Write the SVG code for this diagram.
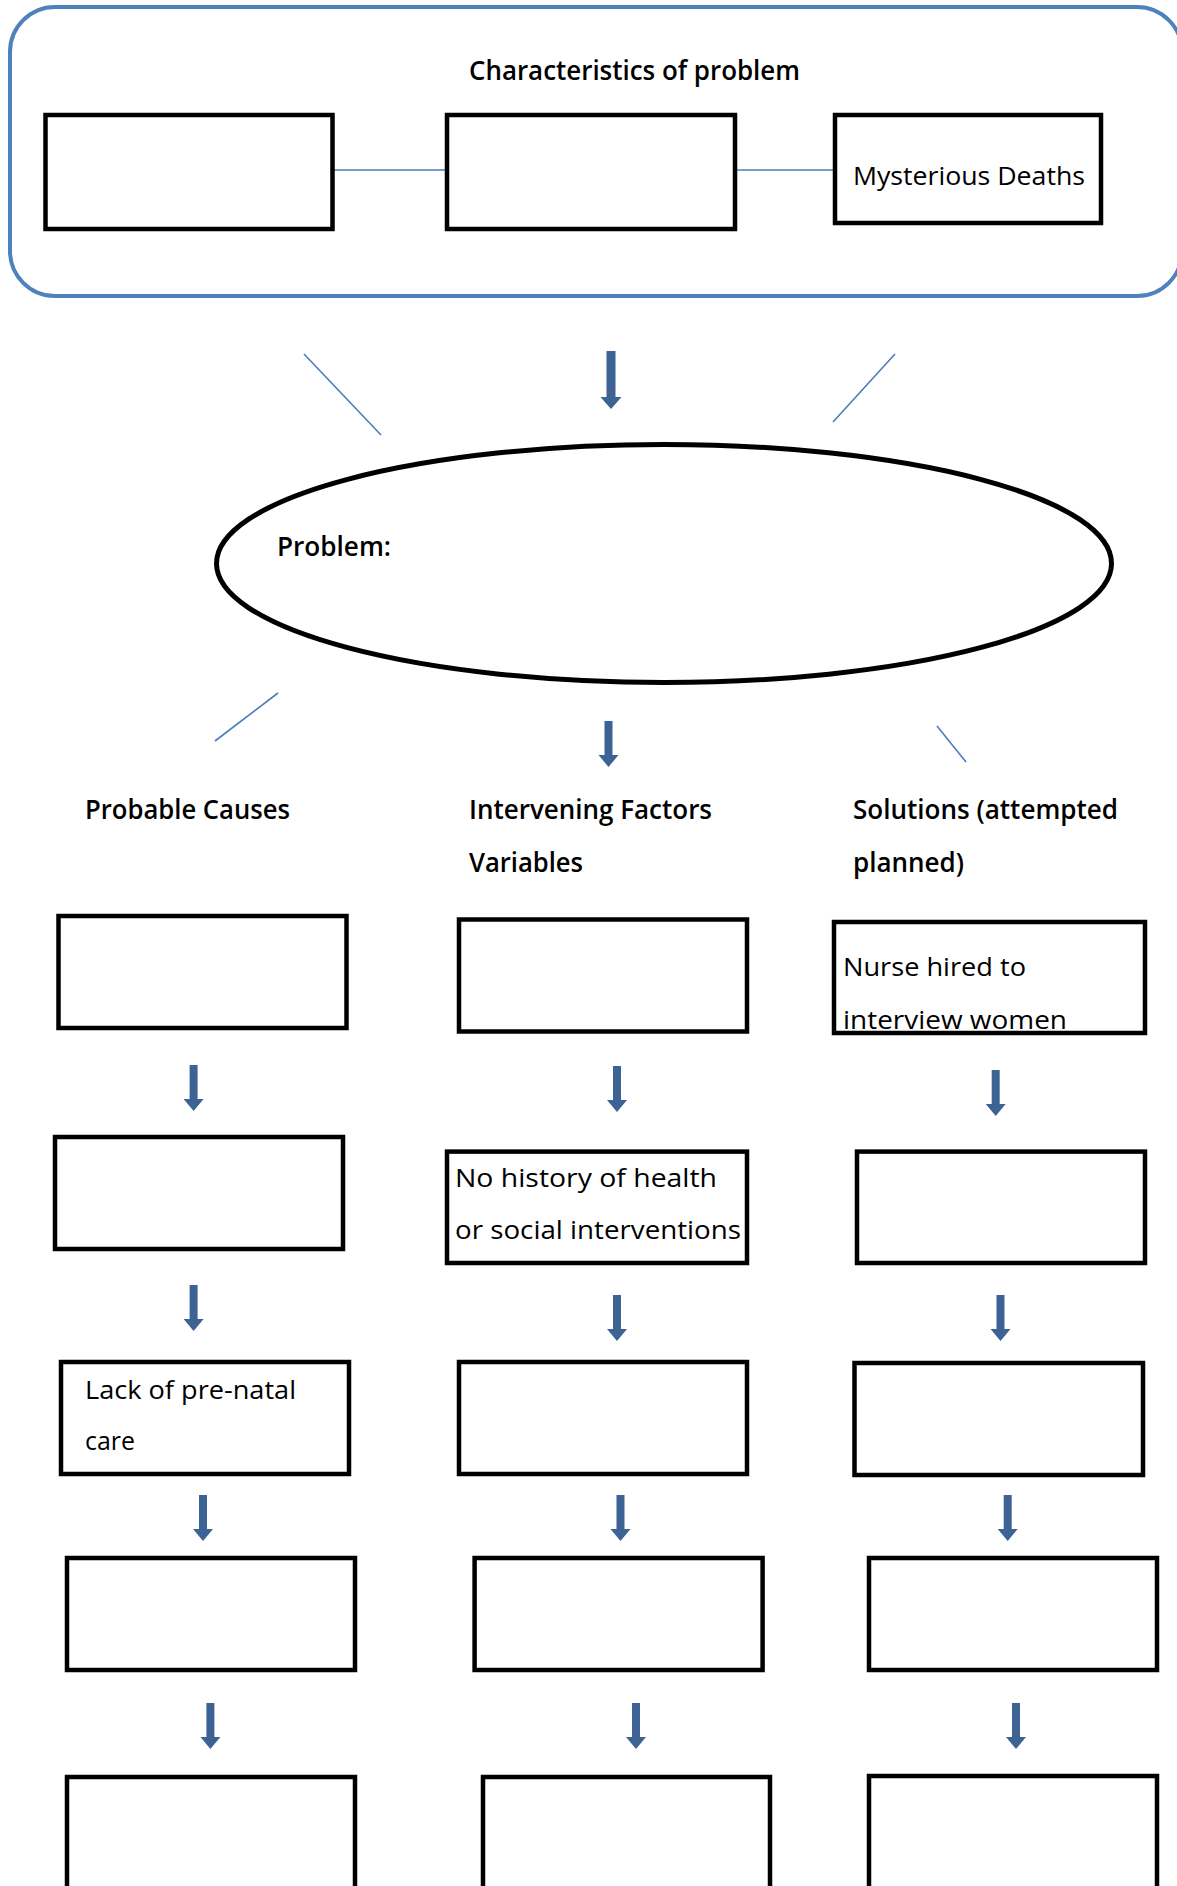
<svg xmlns="http://www.w3.org/2000/svg" width="1177" height="1886" viewBox="0 0 1177 1886">
<style>
.box{fill:#fff;stroke:#000;stroke-width:4.5}
.frame{fill:none;stroke:#4F81BD;stroke-width:4}
.ell{fill:#fff;stroke:#000;stroke-width:5}
.ln{stroke:#4A7EBB;stroke-width:1.6;fill:none}
.arr{fill:#3D6394}
.t{font-family:"Open Sans","Lato",sans-serif;font-size:26px;fill:#000}
.h{font-family:"Open Sans","Lato",sans-serif;font-size:27px;font-weight:600;fill:#000}
</style>
<defs>
<path id="a46" d="M-4,0 H4 V34 H10 L0,46 L-10,34 H-4 Z"/>
<path id="a58" d="M-4.5,0 H4.5 V46 H10.5 L0,58 L-10.5,46 H-4.5 Z"/>
</defs>
<rect x="0" y="0" width="1177" height="1886" fill="#fff"/>

<g id="characteristics">
<rect class="frame" x="10" y="7" width="1172" height="289" rx="45" ry="45"/>
<text class="h" x="469" y="80" textLength="331" lengthAdjust="spacingAndGlyphs">Characteristics of problem</text>
</g>

<g id="connectors">
<line class="ln" x1="333" y1="170" x2="447" y2="170"/>
<line class="ln" x1="735" y1="170" x2="835" y2="170"/>
<line class="ln" x1="304" y1="354" x2="381" y2="435"/>
<line class="ln" x1="895" y1="354" x2="833" y2="422"/>
<line class="ln" x1="278" y1="693" x2="215" y2="741"/>
<line class="ln" x1="937" y1="726" x2="966" y2="762"/>
<use href="#a58" class="arr" x="611" y="351"/>
<use href="#a46" class="arr" x="608.5" y="721"/>
<use href="#a46" class="arr" x="193.6" y="1065"/>
<use href="#a46" class="arr" x="617" y="1066"/>
<use href="#a46" class="arr" x="995.7" y="1070"/>
<use href="#a46" class="arr" x="193.6" y="1285"/>
<use href="#a46" class="arr" x="617" y="1295"/>
<use href="#a46" class="arr" x="1000.5" y="1295"/>
<use href="#a46" class="arr" x="203" y="1495"/>
<use href="#a46" class="arr" x="620.5" y="1495"/>
<use href="#a46" class="arr" x="1007.7" y="1495"/>
<use href="#a46" class="arr" x="210.4" y="1703"/>
<use href="#a46" class="arr" x="636" y="1703"/>
<use href="#a46" class="arr" x="1016" y="1703"/>
</g>

<g id="char1"><rect class="box" x="45.5" y="115" width="287" height="114"/></g>
<g id="char2"><rect class="box" x="447" y="115" width="288" height="114"/></g>
<g id="char3"><rect class="box" x="835" y="115" width="266" height="108"/>
<text class="t" x="853" y="185" textLength="232" lengthAdjust="spacingAndGlyphs">Mysterious Deaths</text></g>

<g id="problem">
<ellipse class="ell" cx="664" cy="563.5" rx="447.5" ry="119"/>
<text class="h" x="277" y="556" textLength="114" lengthAdjust="spacingAndGlyphs">Problem:</text>
</g>

<g id="head-causes"><text class="h" x="85" y="819" textLength="205" lengthAdjust="spacingAndGlyphs">Probable Causes</text></g>
<g id="head-factors">
<text class="h" x="469" y="819" textLength="243" lengthAdjust="spacingAndGlyphs">Intervening Factors</text>
<text class="h" x="469" y="872" textLength="114" lengthAdjust="spacingAndGlyphs">Variables</text>
</g>
<g id="head-solutions">
<text class="h" x="853" y="819" textLength="265" lengthAdjust="spacingAndGlyphs">Solutions (attempted</text>
<text class="h" x="853" y="872" textLength="111" lengthAdjust="spacingAndGlyphs">planned)</text>
</g>

<g id="c1r1"><rect class="box" x="58.5" y="916" width="288" height="112"/></g>
<g id="c2r1"><rect class="box" x="459" y="919.5" width="288" height="112"/></g>
<g id="c3r1"><rect class="box" x="834" y="922" width="311" height="111"/>
<text class="t" x="843" y="976" textLength="183" lengthAdjust="spacingAndGlyphs">Nurse hired to</text>
<text class="t" x="843" y="1029" textLength="224" lengthAdjust="spacingAndGlyphs">interview women</text></g>

<g id="c1r2"><rect class="box" x="55" y="1137" width="288" height="112"/></g>
<g id="c2r2"><rect class="box" x="447" y="1151.6" width="300" height="111.4"/>
<text class="t" x="455" y="1187" textLength="262" lengthAdjust="spacingAndGlyphs">No history of health</text>
<text class="t" x="455" y="1238.5" textLength="286" lengthAdjust="spacingAndGlyphs">or social interventions</text></g>
<g id="c3r2"><rect class="box" x="857" y="1151.6" width="288" height="111.4"/></g>

<g id="c1r3"><rect class="box" x="61" y="1362" width="288" height="112"/>
<text class="t" x="85" y="1398.5" textLength="211" lengthAdjust="spacingAndGlyphs">Lack of pre-natal</text>
<text class="t" x="85" y="1450" textLength="50" lengthAdjust="spacingAndGlyphs">care</text></g>
<g id="c2r3"><rect class="box" x="459" y="1362" width="288" height="112"/></g>
<g id="c3r3"><rect class="box" x="854.5" y="1363" width="288.5" height="112"/></g>

<g id="c1r4"><rect class="box" x="67" y="1558" width="288" height="112"/></g>
<g id="c2r4"><rect class="box" x="474.6" y="1558" width="288" height="112"/></g>
<g id="c3r4"><rect class="box" x="869" y="1558" width="288" height="112"/></g>

<g id="c1r5"><rect class="box" x="67" y="1777" width="288" height="200"/></g>
<g id="c2r5"><rect class="box" x="483" y="1777" width="287" height="200"/></g>
<g id="c3r5"><rect class="box" x="869" y="1776" width="288" height="200"/></g>
</svg>
